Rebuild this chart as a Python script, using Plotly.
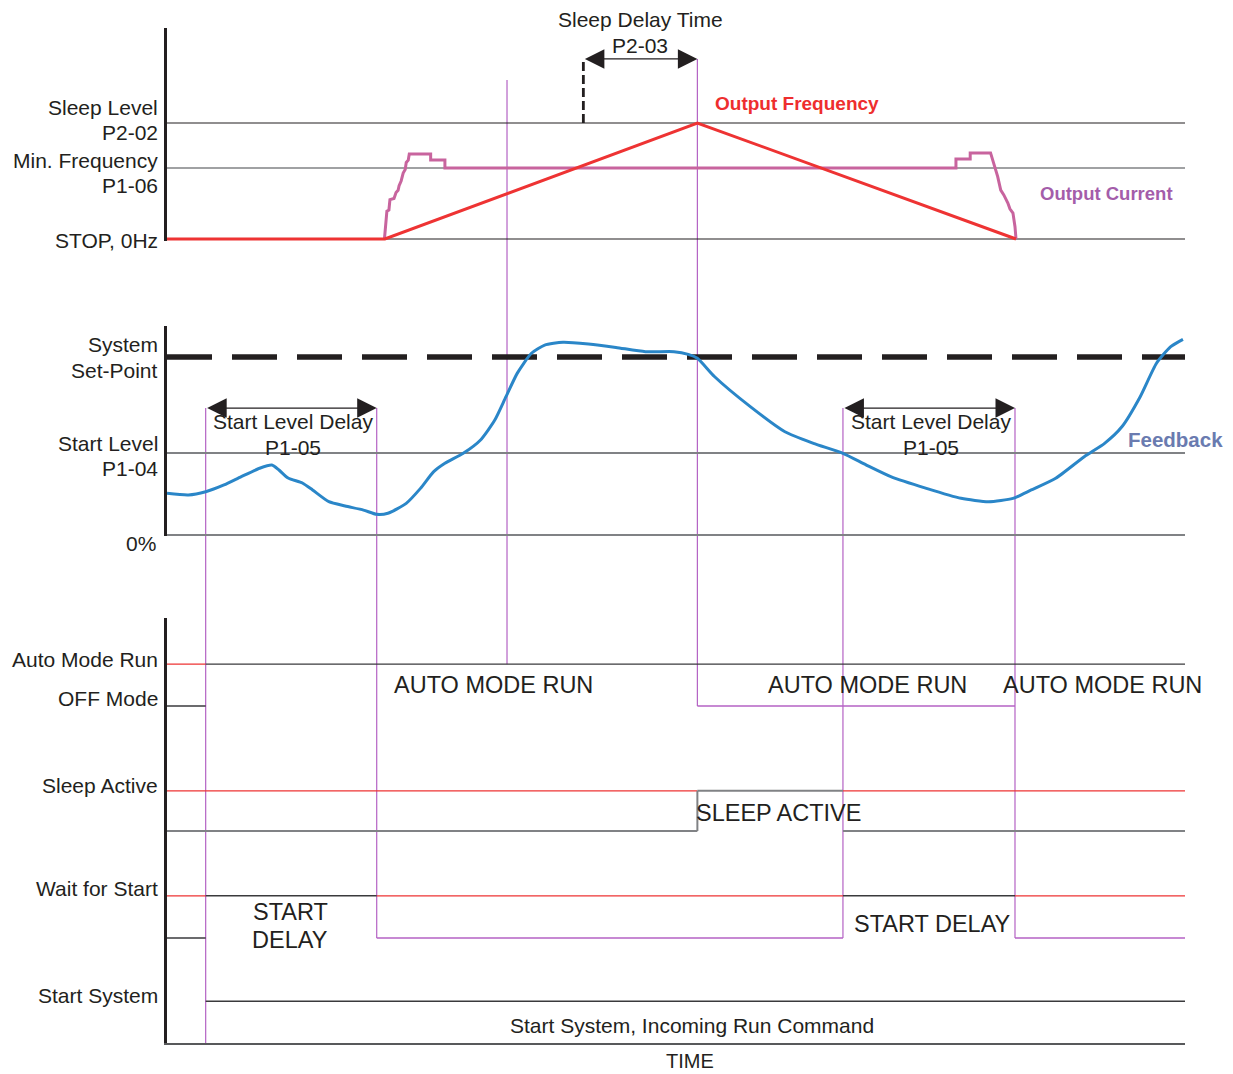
import plotly.graph_objects as go

# -----------------------------------
# Timing events (time axis runs 0..100 across the chart)
# -----------------------------------
t_start = 3.8         # start system, incoming run command
t_delay_end = 20.6    # start level delay elapsed
t_run = 21.4          # drive begins to ramp
t_auto = 33.4         # auto mode run marker
t_sleep_check = 40.9  # sleep delay timer begins
t_sleep = 52.1        # sleep active
t_low = 66.4          # feedback drops under start level
t_wake = 83.3         # start level delay elapsed again

# -----------------------------------
# Top panel: output frequency / current
# -----------------------------------
sleep_level = 50.0
min_freq = 30.6
sleep_arrow_level = 77.6
auto_marker_top = 68.5

freq_t = [0, t_run, t_sleep, 83.4]
freq_v = [0, 0, 50, 0]

current_t = [21.36, 21.5, 21.6, 21.8, 21.9, 22.3, 22.5, 22.7, 22.8, 23.0, 23.2,
             23.4, 23.5, 23.7, 23.8, 25.9, 25.9, 27.3, 27.3, 77.5, 77.5, 78.9,
             78.9, 80.9, 81.1, 81.4, 81.6, 81.9, 82.2, 82.6, 82.8, 83.1, 83.3, 83.4]
current_v = [0, 8, 12, 12.5, 17, 17.5, 20, 21, 23, 25, 28.4,
             30, 33, 34, 36.6, 36.6, 34.1, 34.1, 30.6, 30.6, 34.5, 34.5,
             37.1, 37.1, 34.1, 30, 26.9, 21.1, 19, 15.5, 13, 11.2, 5.3, 0]

# -----------------------------------
# Middle panel: feedback (%)
# -----------------------------------
set_point = 100.0
start_level = 46.0
delay_arrow_level = 71.3

fb_t = [0, 2.1, 3.8, 5.6, 7.3, 9.1, 10.3, 11.0, 11.9, 13.3, 14.3, 15.9, 17.5,
        19.3, 20.6, 21.7, 23.5, 24.9, 26.2, 27.3, 29.1, 30.8, 32.2, 33.3, 34.4,
        35.8, 37.1, 38.9, 41.4, 44.1, 47.0, 49.8, 51.2, 52.1, 53.8, 57.3, 60.7,
        63.5, 66.4, 68.7, 71.1, 74.6, 78.0, 80.7, 83.1, 84.9, 87.3, 90.1, 92.1,
        93.8, 95.6, 97.2, 98.6, 99.8]
fb_v = [23.4, 22.5, 24.3, 28.1, 32.8, 37.5, 39.3, 36.5, 32.0, 29.2, 25.3, 18.7,
        16.3, 14.0, 11.6, 12.2, 17.8, 26.2, 35.6, 40.3, 45.9, 53.4, 64.6, 77.7,
        90.8, 102.1, 106.7, 108.3, 107.3, 105.4, 103.0, 103.0, 101.5, 99.3, 88.9,
        72.1, 58.0, 51.5, 45.9, 39.3, 32.8, 26.2, 20.6, 18.7, 20.6, 25.3, 31.9,
        44.0, 51.5, 60.8, 77.7, 96.5, 105.8, 109.9]

# -----------------------------------
# Bottom panel: logic rows (low, high)
# -----------------------------------
auto_row = (8.22, 9.24)
sleep_row = (5.17, 6.15)
wait_row = (2.56, 3.59)
start_row = (0.0, 1.02)

red_segs = [(0, t_start, auto_row[1]), (0, t_sleep, sleep_row[1]),
            (t_low, 100, sleep_row[1]), (0, t_start, wait_row[1]),
            (t_delay_end, t_low, wait_row[1]), (t_wake, 100, wait_row[1])]
black_segs = [(0, t_start, auto_row[0]), (t_start, 100, auto_row[1]),
              (0, t_start, wait_row[0]), (t_start, t_delay_end, wait_row[1]),
              (t_low, t_wake, wait_row[1]), (t_start, 100, start_row[1])]
gray_segs = [(0, t_sleep, sleep_row[0]), (t_sleep, t_low, sleep_row[1]),
             (t_low, 100, sleep_row[0])]
purple_segs = [(t_sleep, t_wake, auto_row[0]), (t_delay_end, t_low, wait_row[0]),
               (t_wake, 100, wait_row[0])]

# -----------------------------------
# Layout geometry (page keeps an 8px body margin)
# -----------------------------------
PAGE = 8
W, H = 1233 - PAGE, 1074 - PAGE
FONT = "Liberation Sans, Arial, sans-serif"
INK = "#231F20"
RED = "#EE3333"
PURPLE = "#B462C4"
GRAY = "#808285"


def panel(top_px, bottom_px, zero_px, px_per_unit):
    top_px, bottom_px, zero_px = top_px - PAGE, bottom_px - PAGE, zero_px - PAGE
    dom = [1 - bottom_px / H, 1 - top_px / H]
    rng = [-(bottom_px - zero_px) / px_per_unit, (zero_px - top_px) / px_per_unit]
    return dom, rng


top_dom, top_rng = panel(28, 241, 239, 2.32)
mid_dom, mid_rng = panel(326, 536, 535, 1.78)
bot_dom, bot_rng = panel(618, 1043, 1043, 41.0)
panels = {"y": (top_dom, top_rng), "y2": (mid_dom, mid_rng), "y3": (bot_dom, bot_rng)}


def to_paper(axis, v):
    dom, rng = panels[axis]
    return dom[0] + (v - rng[0]) / (rng[1] - rng[0]) * (dom[1] - dom[0])


def seg_xy(segs):
    xs, ys = [], []
    for t0, t1, v in segs:
        xs += [t0, t1, None]
        ys += [v, v, None]
    return xs, ys


fig = go.Figure()


def line(x, y, axis, color, width, dash="solid", shape="linear"):
    fig.add_trace(go.Scatter(
        x=x, y=y, yaxis=axis, mode="lines", hoverinfo="skip",
        line=dict(color=color, width=width, dash=dash, shape=shape,
                  smoothing=0.6 if shape == "spline" else None)
    ))


# top panel level lines
line([0, 100], [sleep_level] * 2, "y", INK, 1.2)
line([0, 100], [min_freq] * 2, "y", GRAY, 1.3)
line([0, 100], [0, 0], "y", INK, 1.2)
line([t_sleep_check, t_sleep_check], [sleep_level, sleep_arrow_level], "y", INK, 2.8, dash="9px,4px")
line(current_t, current_v, "y", "#C8649E", 3)
line(freq_t, freq_v, "y", RED, 3)

# middle panel
line([0, 100], [start_level] * 2, "y2", GRAY, 2)
line([0, 100], [0, 0], "y2", GRAY, 2)
line([0, 100], [set_point] * 2, "y2", INK, 5.5, dash="45px,20px")
line(fb_t, fb_v, "y2", "#2A86C8", 3, shape="spline")

# bottom panel
for segs, color, width in [(red_segs, RED, 1.2), (black_segs, "#3A3A3C", 1.4),
                           (gray_segs, GRAY, 2), (purple_segs, PURPLE, 1.4)]:
    xs, ys = seg_xy(segs)
    line(xs, ys, "y3", color, width)
line([t_sleep, t_sleep], [sleep_row[0], sleep_row[1]], "y3", GRAY, 2)

# long event markers crossing the panels
verticals = [
    (t_start, ("y2", delay_arrow_level), ("y3", 0)),
    (t_delay_end, ("y2", delay_arrow_level), ("y3", wait_row[0])),
    (t_auto, ("y", auto_marker_top), ("y3", auto_row[1])),
    (t_sleep, ("y", sleep_arrow_level), ("y3", auto_row[0])),
    (t_low, ("y2", delay_arrow_level), ("y3", wait_row[0])),
    (t_wake, ("y2", delay_arrow_level), ("y3", wait_row[0])),
]
for t, (a0, v0), (a1, v1) in verticals:
    fig.add_shape(type="line", xref="x", yref="paper", x0=t, x1=t,
                  y0=to_paper(a0, v0), y1=to_paper(a1, v1),
                  line=dict(color=PURPLE, width=1.2), layer="below")

# double-headed arrows
for t0, t1, axis, v in [(t_sleep_check, t_sleep, "y", sleep_arrow_level),
                        (t_start, t_delay_end, "y2", delay_arrow_level),
                        (t_low, t_wake, "y2", delay_arrow_level)]:
    fig.add_annotation(x=t1, y=v, ax=t0, ay=v, xref="x", yref=axis, axref="x", ayref=axis,
                       text="", showarrow=True, arrowhead=2, startarrowhead=2,
                       arrowside="end+start", arrowsize=3.0, startarrowsize=3.0,
                       arrowwidth=1.3, arrowcolor=INK)


def label(text, x, y, axis, yshift=0, xref="x", xanchor="center", xshift=0,
          size=21, color=INK, bold=False):
    if bold:
        text = "<b>" + text + "</b>"
    fig.add_annotation(x=x, y=y, xref=xref, yref=axis, text=text, showarrow=False,
                       xanchor=xanchor, yanchor="middle", xshift=xshift, yshift=yshift,
                       font=dict(family=FONT, size=size, color=color))


# left side level names
left = [
    ("Sleep Level", "y", sleep_level, 15), ("P2-02", "y", sleep_level, -10),
    ("Min. Frequency", "y", min_freq, 8), ("P1-06", "y", min_freq, -17),
    ("STOP, 0Hz", "y", 0, -2),
    ("System", "y2", set_point, 13), ("Set-Point", "y2", set_point, -13),
    ("Start Level", "y2", start_level, 10), ("P1-04", "y2", start_level, -15),
    ("Auto Mode Run", "y3", auto_row[1], 5), ("OFF Mode", "y3", auto_row[0], 7),
    ("Sleep Active", "y3", sleep_row[1], 5), ("Wait for Start", "y3", wait_row[1], 7),
    ("Start System", "y3", start_row[1], 6),
]
for text, axis, v, dy in left:
    label(text, 0, v, axis, yshift=dy, xref="paper", xanchor="right", xshift=-7)
label("0%", 0, 0, "y2", yshift=-8, xref="paper", xanchor="right", xshift=-9)

# top panel texts
label("Sleep Delay Time", 46.5, sleep_arrow_level, "y", yshift=39)
label("P2-03", 46.5, sleep_arrow_level, "y", yshift=13)
label("Output Frequency", 61.9, 58.2, "y", size=19, color="#EE2E2E", bold=True)
label("Output Current", 92.3, 19.4, "y", size=18.5, color="#A45DAA", bold=True)

# middle panel texts
for tc in [12.4, 75.0]:
    label("Start Level Delay", tc, delay_arrow_level, "y2", yshift=-13)
    label("P1-05", tc, delay_arrow_level, "y2", yshift=-39)
label("Feedback", 99.1, 53.9, "y2", size=20.5, color="#6A7BB0", bold=True)

# bottom panel states
auto_mid = (auto_row[0] + auto_row[1]) / 2
for tc in [32.1, 68.8, 91.9]:
    label("AUTO MODE RUN", tc, auto_mid, "y3", size=23.5)
label("SLEEP ACTIVE", t_sleep, (sleep_row[0] + sleep_row[1]) / 2, "y3",
      xanchor="left", xshift=-3, yshift=-2, size=23.5)
label("START", 12.1, wait_row[1], "y3", yshift=-16, size=23.5)
label("DELAY", 12.1, wait_row[1], "y3", yshift=-44, size=23.5)
label("START DELAY", 75.2, wait_row[1], "y3", yshift=-28, size=23.5)
label("Start System, Incoming Run Command", 51.6, start_row[1], "y3", yshift=-24)
label("TIME", 51.4, 0, "y3", yshift=-18, size=20)

axis_style = dict(showgrid=False, zeroline=False, showticklabels=False, ticks="",
                  showline=True, linecolor=INK, linewidth=3, anchor="x", fixedrange=True)

fig.update_layout(
    width=W, height=H, autosize=False,
    margin=dict(l=167 - PAGE, r=1233 - 1185, t=0, b=0),
    paper_bgcolor="white", plot_bgcolor="white",
    showlegend=False,
    font=dict(family=FONT, color=INK),
    xaxis=dict(range=[0, 100], domain=[0, 1], anchor="y3", showgrid=False, zeroline=False,
               showticklabels=False, ticks="", showline=True, linecolor="#58595B",
               linewidth=2, fixedrange=True),
    yaxis=dict(domain=top_dom, range=top_rng, **axis_style),
    yaxis2=dict(domain=mid_dom, range=mid_rng, **axis_style),
    yaxis3=dict(domain=bot_dom, range=bot_rng, **axis_style),
)

fig.write_html("out.html")
